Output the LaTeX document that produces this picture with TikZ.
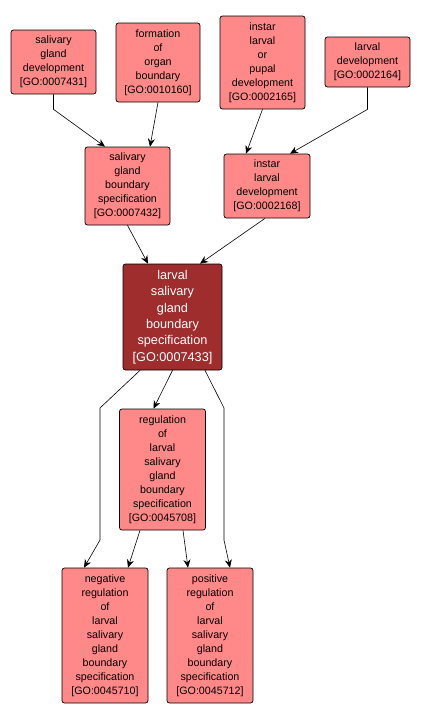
\documentclass[tikz,border=0pt]{standalone}
\usepackage{fontspec}
\setmainfont{Liberation Sans}
\usetikzlibrary{arrows.meta}
\definecolor{termfill}{RGB}{255,137,137}
\definecolor{mainfill}{RGB}{159,45,45}
\tikzset{
  term/.style={draw=black, fill=termfill, rounded corners=2.5pt, line width=0.7pt,
    align=center, inner sep=0pt, font=\fontsize{10.7}{14}\selectfont},
  mainterm/.style={term, fill=mainfill, text=white, font=\fontsize{12.7}{16.3}\selectfont},
  isa/.style={-{Stealth[length=8pt,width=7pt]}, line width=0.6pt}
}
\begin{document}
\begin{tikzpicture}[x=1pt,y=-1pt]
 \useasboundingbox (0,0) rectangle (421,720);
 % top row
 \node[term, minimum width=85pt, minimum height=64pt] (sgd) at (53.5,62) {salivary\\gland\\development\\{}[GO:0007431]};
 \node[term, minimum width=84pt, minimum height=79pt] (fob) at (158,62.5) {formation\\of\\organ\\boundary\\{}[GO:0010160]};
 \node[term, minimum width=85pt, minimum height=93pt] (ilp) at (262.5,62.5) {instar\\larval\\or\\pupal\\development\\{}[GO:0002165]};
 \node[term, minimum width=85pt, minimum height=50pt] (ld) at (367.5,62) {larval\\development\\{}[GO:0002164]};
 % second row
 \node[term, minimum width=85pt, minimum height=78pt] (sgbs) at (127.5,186) {salivary\\gland\\boundary\\specification\\{}[GO:0007432]};
 \node[term, minimum width=86pt, minimum height=64pt] (ild) at (267,186) {instar\\larval\\development\\{}[GO:0002168]};
 % the term itself
 \node[mainterm, minimum width=99pt, minimum height=106pt] (lsgbs) at (172.5,317) {larval\\salivary\\gland\\boundary\\specification\\{}[GO:0007433]};
 % children
 \node[term, minimum width=86pt, minimum height=121pt] (reg) at (162.5,469.5) {regulation\\of\\larval\\salivary\\gland\\boundary\\specification\\{}[GO:0045708]};
 \node[term, minimum width=86pt, minimum height=135pt] (neg) at (105,635.5) {negative\\regulation\\of\\larval\\salivary\\gland\\boundary\\specification\\{}[GO:0045710]};
 \node[term, minimum width=86pt, minimum height=135pt] (pos) at (210,635.5) {positive\\regulation\\of\\larval\\salivary\\gland\\boundary\\specification\\{}[GO:0045712]};
 % edges
 \draw[isa] (sgd.south) -- ++(0,15) -- ([xshift=-22.5pt]sgbs.north);
 \draw[isa] (fob.south) -- ([xshift=22.5pt]sgbs.north);
 \draw[isa] (ilp.south) -- ([xshift=-21pt]ild.north);
 \draw[isa] (ld.south) -- ++(0,22) -- ([xshift=23pt]ild.north);
 \draw[isa] (sgbs.south) -- ([xshift=-24.5pt]lsgbs.north);
 \draw[isa] ([xshift=-2pt]ild.south) -- ([xshift=27.5pt]lsgbs.north);
 \draw[isa] (lsgbs.south) -- ([xshift=-9pt]reg.north);
 \draw[isa] ([xshift=-32.5pt]lsgbs.south) -- (100,408) -- (100,540) -- ([xshift=-21pt]neg.north);
 \draw[isa] ([xshift=32.5pt]lsgbs.south) -- (224,408) -- (224,540) -- ([xshift=20pt]pos.north);
 \draw[isa] ([xshift=-22.5pt]reg.south) -- ([xshift=23pt]neg.north);
 \draw[isa] ([xshift=20.5pt]reg.south) -- ([xshift=-22pt]pos.north);
\end{tikzpicture}
\end{document}
